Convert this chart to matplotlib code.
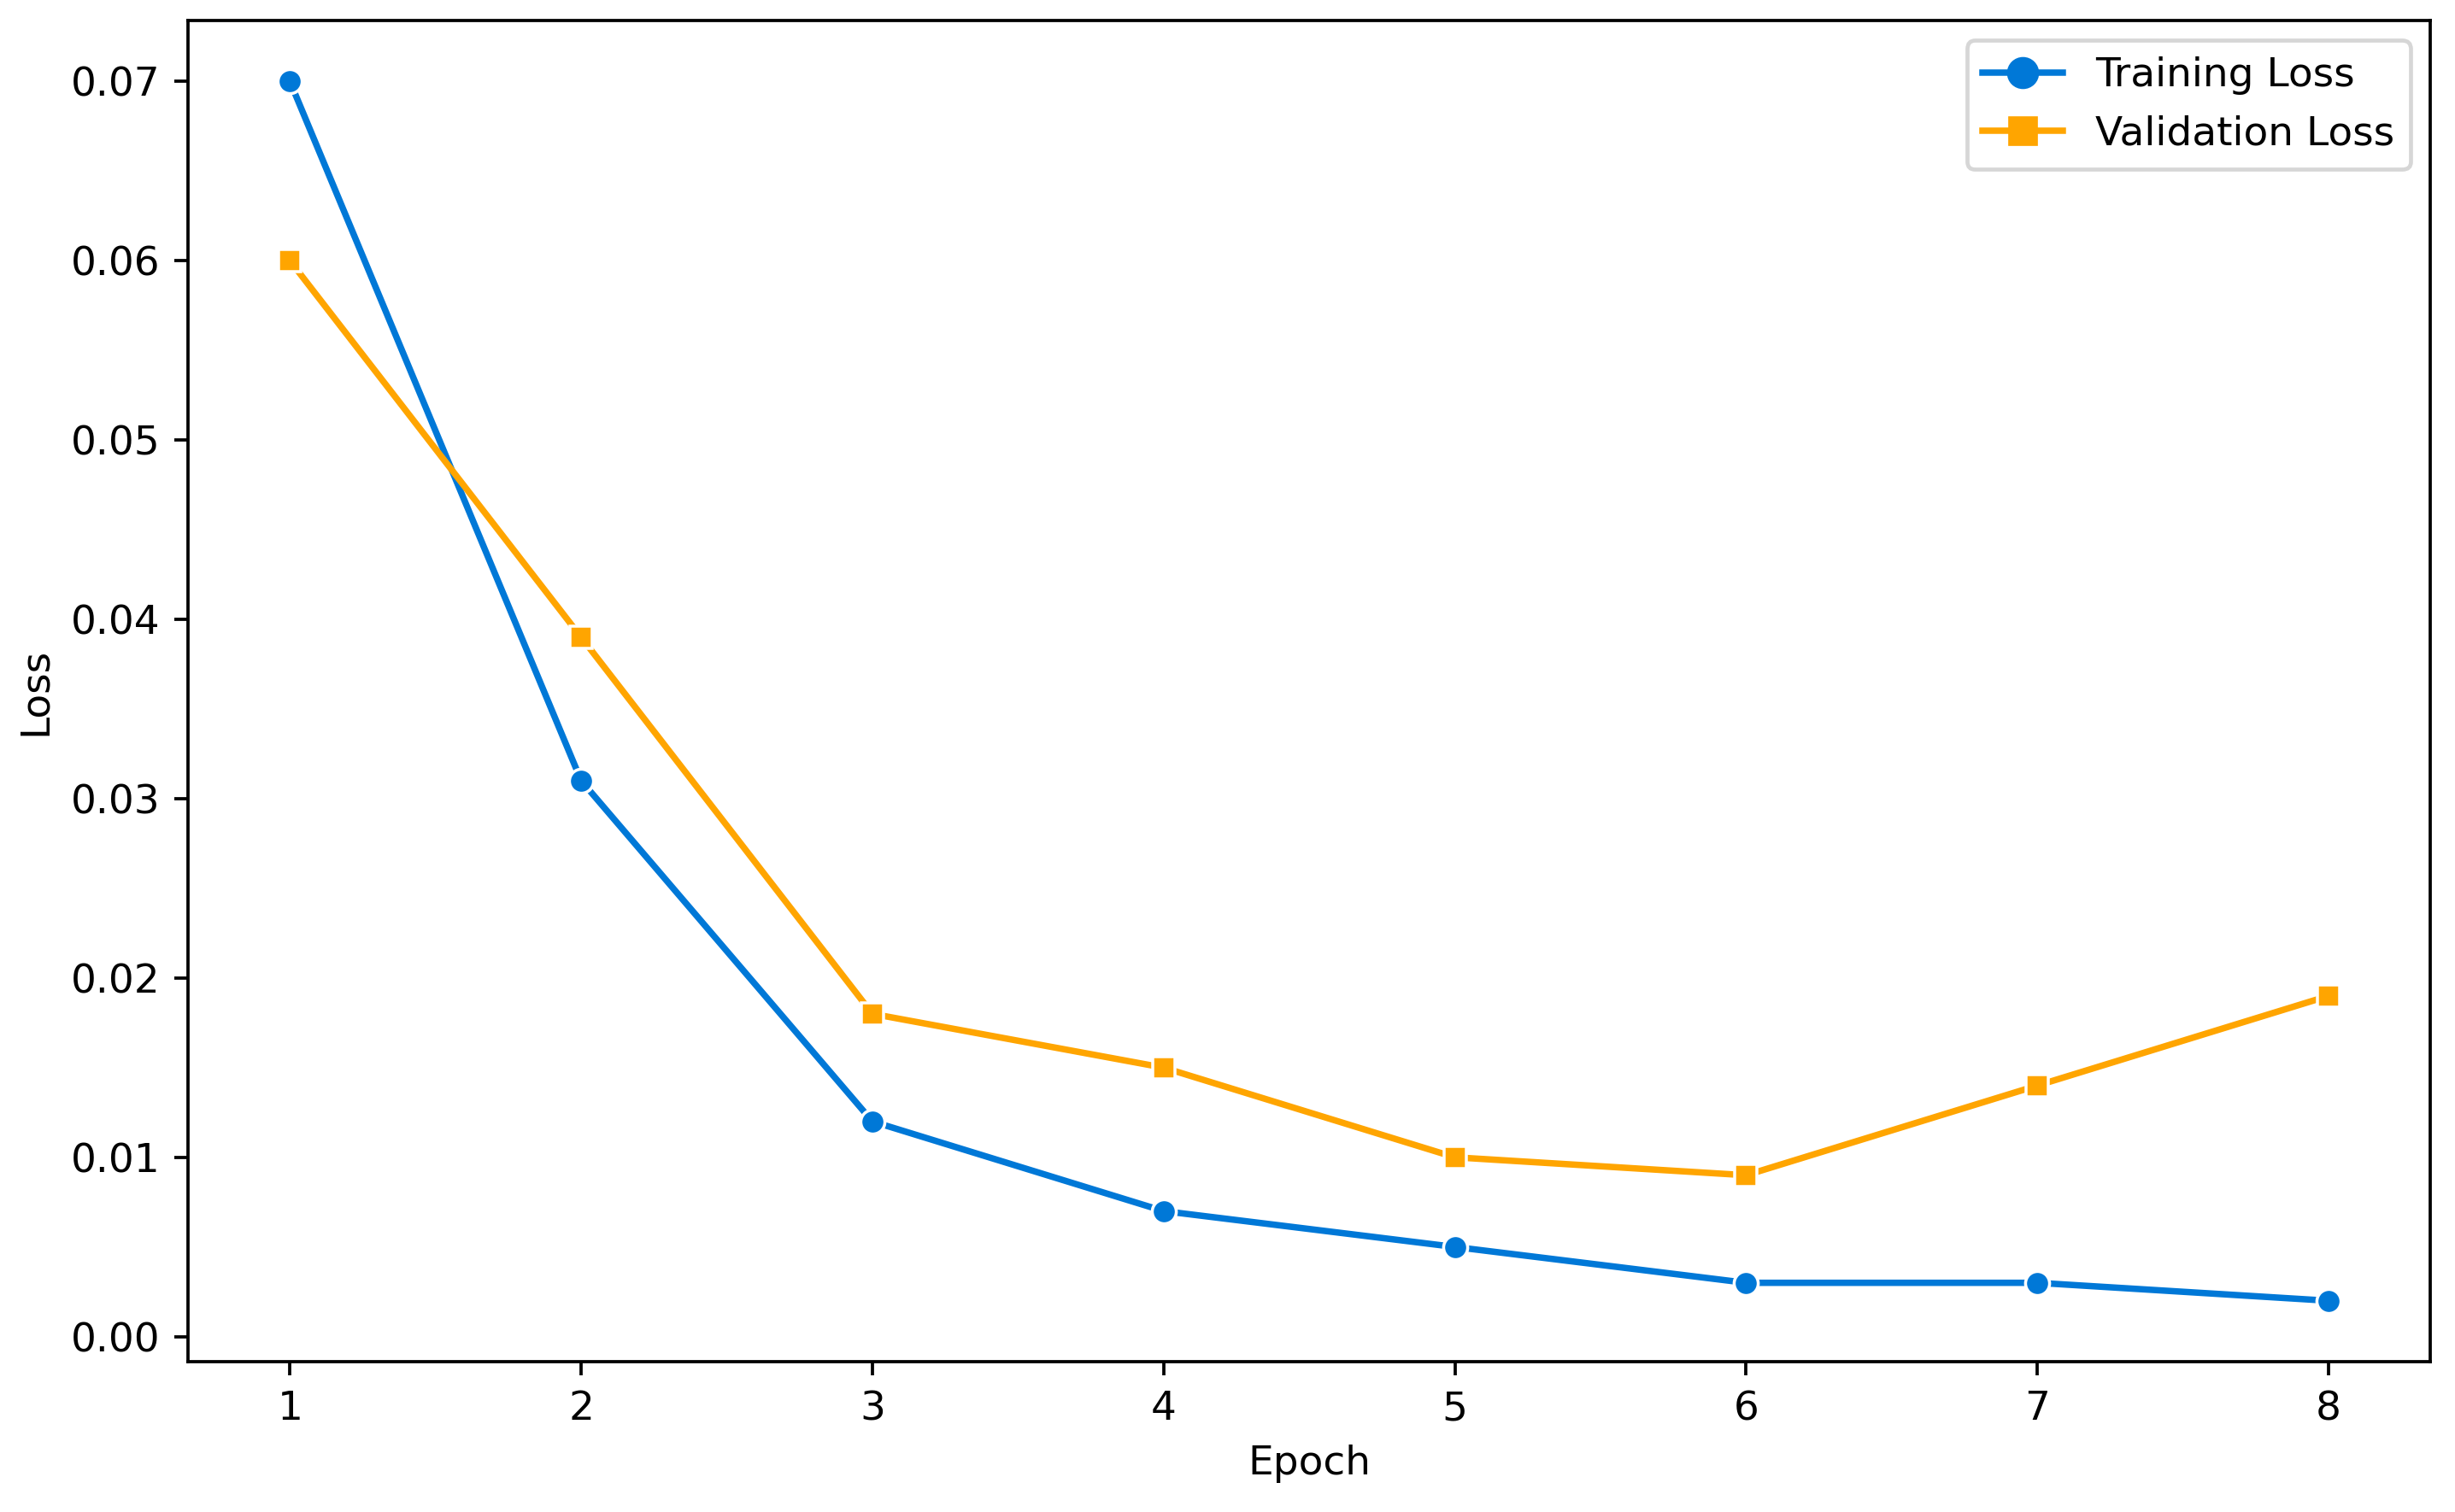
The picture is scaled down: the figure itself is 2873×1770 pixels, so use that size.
import matplotlib
matplotlib.use('Agg')
import matplotlib.pyplot as plt
from matplotlib.lines import Line2D

# loss values per epoch
epochs = [1, 2, 3, 4, 5, 6, 7, 8]
train_loss = [0.070, 0.031, 0.012, 0.007, 0.005, 0.003, 0.003, 0.002]
val_loss = [0.060, 0.039, 0.018, 0.015, 0.010, 0.009, 0.014, 0.019]

blue = '#0078D7'
orange = '#FFA500'

# smaller figure at higher dpi, so text comes out as large as in the reference
fig, ax = plt.subplots(figsize=(8.5, 5.237), dpi=338)
fig.subplots_adjust(left=0.0766, right=0.990, top=0.9864, bottom=0.0994)

ax.plot(epochs, train_loss, marker='o', color=blue,
        markeredgecolor='white', markeredgewidth=0.75, markersize=6, linewidth=1.6)
ax.plot(epochs, val_loss, marker='s', color=orange,
        markeredgecolor='white', markeredgewidth=0.75, markersize=5.5, linewidth=1.6)

ax.set_xlabel('Epoch')
ax.set_ylabel('Loss')

# legend handles have bigger markers without the white edge
handles = [Line2D([], [], color=blue, marker='o', markersize=7, linewidth=1.6),
           Line2D([], [], color=orange, marker='s', markersize=6.5, linewidth=1.6)]
ax.legend(handles, ['Training Loss', 'Validation Loss'], loc='upper right')

fig.savefig('out.png')
